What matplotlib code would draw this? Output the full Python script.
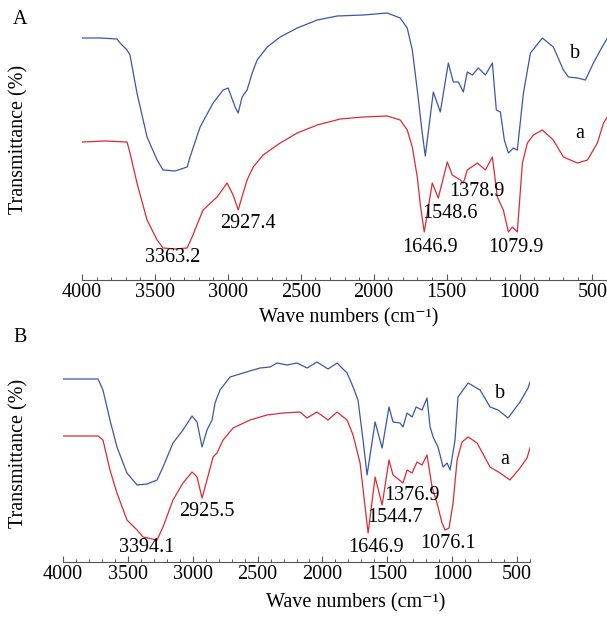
import matplotlib
matplotlib.use("Agg")
import matplotlib.pyplot as plt
from matplotlib.ticker import MultipleLocator

plt.rcParams['font.family'] = ['Liberation Serif', 'DejaVu Serif']

# ---------------- Panel A data (wavenumber, transmittance a.u.) ----------------
a_blue_wn = [4000, 3876, 3760, 3739, 3691, 3671, 3623, 3554, 3485, 3444, 3362, 3279,
             3259, 3190, 3101, 3032, 2998, 2950, 2929, 2902, 2868, 2833, 2799, 2730,
             2641, 2524, 2387, 2250, 2071, 1907, 1818, 1770, 1735, 1701, 1667, 1646,
             1591, 1543, 1488, 1454, 1419, 1385, 1358, 1323, 1282, 1234, 1186, 1159,
             1131, 1104, 1076, 1042, 1015, 973, 925, 843, 768, 699, 665, 603, 548,
             493, 445, 397]
a_blue_t = [242, 242, 241, 237, 230, 225, 187, 143, 120, 110, 109, 113,
            123, 153, 177, 190, 192, 173, 167, 183, 190, 207, 220, 233,
            243, 252, 260, 264, 265, 267, 262, 252, 230, 190, 147, 124,
            188, 168, 217, 198, 198, 188, 208, 205, 212, 205, 217, 170,
            168, 140, 127, 132, 130, 187, 227, 242, 233, 210, 203, 202, 200,
            217, 230, 242]

a_red_wn = [4000, 3842, 3691, 3671, 3623, 3554, 3485, 3444, 3362, 3279, 3245, 3170,
            3074, 3005, 2964, 2929, 2895, 2868, 2826, 2758, 2641, 2524, 2387, 2229,
            2071, 1907, 1818, 1770, 1735, 1701, 1680, 1653, 1598, 1557, 1495, 1461,
            1406, 1385, 1358, 1289, 1234, 1186, 1152, 1111, 1076, 1049, 1015, 980,
            946, 905, 843, 768, 699, 603, 534, 466, 424, 397]
a_red_t = [138, 139, 138, 127, 97, 60, 40, 32, 31, 32, 43, 70,
           83, 97, 85, 70, 87, 100, 113, 125, 137, 147, 155, 161,
           163, 164, 160, 150, 133, 103, 75, 48, 97, 82, 118, 105,
           100, 97, 110, 117, 110, 123, 83, 70, 48, 53, 48, 117,
           137, 145, 150, 140, 123, 117, 120, 137, 157, 163]

a_peaks = ["3363.2", "2927.4", "1646.9", "1548.6", "1378.9", "1079.9"]
a_peak_x = [3375, 2861, 1612, 1474, 1289, 1028]
a_peak_y = [22, 57, 33, 67, 88, 33]

# ---------------- Panel B data ----------------
b_blue_wn = [4000, 3869, 3730, 3692, 3638, 3584, 3507, 3429, 3352, 3275, 3229, 3152,
             3075, 3005, 2967, 2928, 2890, 2851, 2828, 2790, 2712, 2612, 2481, 2404,
             2350, 2273, 2196, 2119, 2042, 1957, 1887, 1810, 1764, 1726, 1687, 1656,
             1594, 1540, 1487, 1456, 1402, 1379, 1348, 1309, 1278, 1232, 1194, 1170,
             1147, 1109, 1070, 1039, 1016, 978, 955, 877, 785, 708, 646, 569, 477,
             415, 400]
b_blue_t = [183, 183, 183, 172, 142, 115, 89, 77, 78, 82, 95, 119,
            132, 146, 140, 115, 132, 142, 159, 172, 185, 189, 194, 195,
            199, 197, 199, 194, 200, 193, 199, 189, 175, 162, 122, 87,
            140, 114, 155, 140, 139, 135, 149, 145, 155, 152, 164, 135,
            125, 115, 95, 99, 92, 122, 165, 179, 172, 155, 152, 144, 160,
            174, 180]

b_red_wn = [4000, 3869, 3730, 3692, 3638, 3584, 3507, 3429, 3383, 3275, 3229, 3152,
            3075, 3005, 2967, 2928, 2890, 2843, 2813, 2766, 2689, 2558, 2427, 2304,
            2173, 2119, 2042, 1957, 1887, 1810, 1764, 1710, 1648, 1594, 1540, 1487,
            1456, 1379, 1348, 1309, 1271, 1232, 1194, 1155, 1117, 1078, 1055, 1024,
            993, 962, 924, 877, 808, 708, 631, 554, 477, 423, 400]
b_red_t = [126, 126, 126, 122, 92, 69, 42, 32, 25, 22, 35, 62,
           79, 90, 85, 64, 82, 105, 109, 122, 134, 142, 147, 149,
           150, 144, 150, 142, 150, 142, 127, 99, 29, 85, 57, 102,
           87, 79, 92, 89, 100, 97, 107, 75, 59, 39, 32, 34,
           59, 102, 120, 125, 119, 95, 89, 82, 94, 104, 114]

b_peaks = ["3394.1", "2925.5", "1646.9", "1544.7", "1376.9", "1076.1"]
b_peak_x = [3352, 2890, 1587, 1440, 1309, 1032]
b_peak_y = [14, 50, 15, 44, 66, 19]

BLUE = '#3b56a6'
RED = '#dd2a30'
FS = 14.5

fig = plt.figure(figsize=(6.07, 6.19), dpi=100)

# axes rectangles in figure fractions, from pixel positions of the reference
axA = fig.add_axes([82 / 607, 1 - 280 / 619, 525 / 607, 270 / 619])
axB = fig.add_axes([63 / 607, 1 - 562 / 619, 467 / 607, 217 / 619])


def style_axis(ax, ylim):
    ax.set_xlim(4000, 400)
    ax.set_ylim(*ylim)
    for s in ['top', 'right', 'left']:
        ax.spines[s].set_visible(False)
    ax.spines['bottom'].set_color('#555555')
    ax.spines['bottom'].set_linewidth(0.8)
    ax.set_yticks([])
    ax.set_xticks([4000, 3500, 3000, 2500, 2000, 1500, 1000, 500])
    ax.xaxis.set_minor_locator(MultipleLocator(100))
    ax.tick_params(axis='x', which='major', direction='in', length=4.5,
                   width=0.8, color='#555555', labelsize=FS, pad=2)
    ax.tick_params(axis='x', which='minor', direction='in', length=2.5,
                   width=0.7, color='#555555')
    ax.patch.set_alpha(0)


# Panel A
axA.plot(a_blue_wn, a_blue_t, color=BLUE, lw=0.9)
axA.plot(a_red_wn, a_red_t, color=RED, lw=0.9)
style_axis(axA, (0, 270))
for lab, x, y in zip(a_peaks, a_peak_x, a_peak_y):
    axA.text(x, y, lab, fontsize=FS, ha='center', va='center')
axA.text(616, 227, 'b', fontsize=FS, ha='center', va='center')
axA.text(589, 147, 'a', fontsize=FS, ha='center', va='center')

# Panel B
axB.plot(b_blue_wn, b_blue_t, color=BLUE, lw=0.9)
axB.plot(b_red_wn, b_red_t, color=RED, lw=0.9)
style_axis(axB, (0, 217))
for lab, x, y in zip(b_peaks, b_peak_x, b_peak_y):
    axB.text(x, y, lab, fontsize=FS, ha='center', va='center')
axB.text(631, 169, 'b', fontsize=FS, ha='center', va='center')
axB.text(592, 103, 'a', fontsize=FS, ha='center', va='center')

# labels and panel letters
fig.text(20 / 607, 1 - 20 / 619, 'A', fontsize=FS, ha='center', va='center')
fig.text(20 / 607, 1 - 337 / 619, 'B', fontsize=FS, ha='center', va='center')
fig.text(19 / 607, 1 - 139 / 619, 'Transmittance (%)', fontsize=FS,
         rotation=90, ha='center', va='center')
fig.text(19 / 607, 1 - 453 / 619, 'Transmittance (%)', fontsize=FS,
         rotation=90, ha='center', va='center')
fig.text(349 / 607, 1 - 318 / 619, 'Wave numbers (cm\u207b\u00b9)', fontsize=FS,
         ha='center', va='center')
fig.text(356 / 607, 1 - 603 / 619, 'Wave numbers (cm\u207b\u00b9)', fontsize=FS,
         ha='center', va='center')

fig.savefig('out.png', dpi=100)
